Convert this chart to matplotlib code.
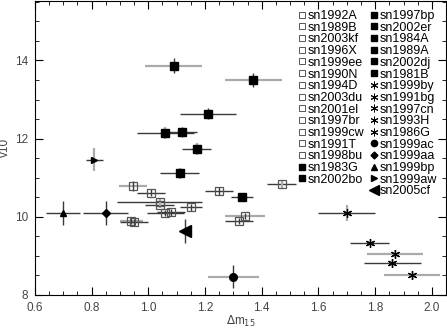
import matplotlib
matplotlib.use("Agg")
import matplotlib.pyplot as plt
from matplotlib.lines import Line2D
from matplotlib.ticker import MultipleLocator

plt.rcParams['font.family'] = ['Liberation Sans', 'DejaVu Sans']

# open squares (normal)
open_names = ["sn1992A", "sn1989B", "sn2003kf", "sn1996X", "sn1999ee", "sn1990N", "sn1994D",
              "sn2003du", "sn2001el", "sn1997br", "sn1999cw", "sn1991T", "sn1998bu"]
open_x = [0.945, 1.01, 1.04, 1.04, 1.06, 1.08, 1.15, 0.94, 0.95, 1.25, 1.47, 1.32, 1.34]
open_y = [10.78, 10.62, 10.38, 10.30, 10.09, 10.11, 10.24, 9.90, 9.87, 10.66, 10.83, 9.89, 10.02]
open_xerr = [0.05, 0.05, 0.15, 0.05, 0.065, 0.05, 0.04, 0.04, 0.05, 0.05, 0.05, 0.05, 0.07]
open_yerr = [0.13, 0.08, 0.10, 0.08, 0.08, 0.08, 0.08, 0.08, 0.08, 0.10, 0.12, 0.08, 0.08]
open_xgray = [1, 0, 0, 0, 0, 0, 0, 1, 0, 0, 0, 0, 1]
open_ygray = [0, 0, 1, 1, 0, 0, 0, 0, 0, 0, 1, 0, 0]

# filled squares
fill_names = ["sn1983G", "sn2002bo", "sn1997bp", "sn2002er", "sn1984A", "sn1989A", "sn2002dj", "sn1981B"]
fill_x = [1.09, 1.37, 1.21, 1.06, 1.12, 1.17, 1.11, 1.33]
fill_y = [13.87, 13.49, 12.64, 12.14, 12.17, 11.73, 11.11, 10.51]
fill_xerr = [0.10, 0.10, 0.10, 0.10, 0.05, 0.05, 0.07, 0.04]
fill_yerr = [0.2, 0.18, 0.15, 0.15, 0.12, 0.15, 0.15, 0.1]
fill_xgray = [1, 1, 0, 0, 0, 0, 0, 0]
fill_ygray = [0, 0, 0, 1, 0, 1, 1, 0]

# asterisks (1991bg-like)
ast_names = ["sn1999by", "sn1991bg", "sn1997cn", "sn1993H", "sn1986G"]
ast_x = [1.70, 1.78, 1.87, 1.86, 1.93]
ast_y = [10.09, 9.34, 9.05, 8.81, 8.50]
ast_xerr = [0.10, 0.07, 0.10, 0.10, 0.10]
ast_yerr = [0.2, 0.1, 0.1, 0.1, 0.1]
ast_xgray = [0, 0, 1, 0, 1]
ast_ygray = [1, 0, 1, 0, 0]

# single peculiar objects
sp_names = ["sn1999ac", "sn1999aa", "sn1999bp", "sn1999aw", "sn2005cf"]
sp_x = [1.30, 0.85, 0.70, 0.81, 1.13]
sp_y = [8.47, 10.10, 10.10, 11.46, 9.64]
sp_xerr = [0.09, 0.08, 0.06, 0.03, 0.02]
sp_yerr = [0.3, 0.3, 0.3, 0.3, 0.3]
sp_xgray = [1, 0, 0, 0, 0]
sp_ygray = [0, 0, 0, 1, 0]
sp_markers = ["o", "D", "^", ">", "<"]
sp_sizes = [5.5, 4, 5, 5, 8]

GRAY = "#aaaaaa"
DARK = "#3a3a3a"
AST = (6, 2, 0)

fig = plt.figure(figsize=(4.47, 3.31), dpi=100)
ax = fig.add_axes([0.078, 0.109, 0.92, 0.889])


def errs(xs, ys, xe, ye, xg, yg):
    for i in range(len(xs)):
        ax.errorbar(xs[i], ys[i], xerr=xe[i], fmt="none", capsize=0,
                    ecolor=GRAY if xg[i] else DARK, elinewidth=1.6 if xg[i] else 1.0, zorder=1)
        ax.errorbar(xs[i], ys[i], yerr=ye[i], fmt="none", capsize=0,
                    ecolor=GRAY if yg[i] else DARK, elinewidth=1.6 if yg[i] else 1.0, zorder=1)


errs(open_x, open_y, open_xerr, open_yerr, open_xgray, open_ygray)
errs(fill_x, fill_y, fill_xerr, fill_yerr, fill_xgray, fill_ygray)
errs(ast_x, ast_y, ast_xerr, ast_yerr, ast_xgray, ast_ygray)
errs(sp_x, sp_y, sp_xerr, sp_yerr, sp_xgray, sp_ygray)

ax.plot(open_x, open_y, ls="none", marker="s", ms=5.2, mfc="none", mec="#555555", mew=0.9, zorder=3)
ax.plot(fill_x, fill_y, ls="none", marker="s", ms=5.6, mfc="black", mec="black", zorder=3)
ax.plot(ast_x, ast_y, ls="none", marker=AST, ms=6.5, mec="black", mew=0.9, zorder=3)
for i in range(len(sp_x)):
    ax.plot(sp_x[i], sp_y[i], ls="none", marker=sp_markers[i], ms=sp_sizes[i],
            color="black", zorder=3)

ax.set_xlim(0.6, 2.05)
ax.set_ylim(8, 15.53)
ax.xaxis.set_major_locator(MultipleLocator(0.2))
ax.xaxis.set_minor_locator(MultipleLocator(0.05))
ax.yaxis.set_major_locator(MultipleLocator(2))
ax.yaxis.set_minor_locator(MultipleLocator(0.5))
ax.tick_params(which="both", direction="in", top=True, right=True, labelsize=8.5,
               labelcolor="#444444")
ax.tick_params(which="major", length=6, pad=5)
ax.tick_params(which="minor", length=3)
ax.set_xlabel(r"$\Delta$m$_{15}$", fontsize=8.5, color="#444444", labelpad=0)
ax.set_ylabel("v10", fontsize=8.5, color="#444444", labelpad=3)

# legend: left column = open squares + 2 filled, right column = rest
handles = []
labels = []
for n in open_names:
    handles.append(Line2D([], [], ls="none", marker="s", ms=4.5, mfc="none", mec="#555555", mew=0.7))
    labels.append(n)
for j, n in enumerate(fill_names):
    if j == 2:
        handles.append(Line2D([], [], ls="none", marker=None))
        labels.append("")
    handles.append(Line2D([], [], ls="none", marker="s", ms=4.5, color="black"))
    labels.append(n)
for n in ast_names:
    handles.append(Line2D([], [], ls="none", marker=AST, ms=5.5, mec="black", mew=0.7))
    labels.append(n)
for i, n in enumerate(sp_names):
    handles.append(Line2D([], [], ls="none", marker=sp_markers[i],
                          ms=[4.5, 3.5, 4.5, 4.5, 7][i], color="black"))
    labels.append(n)

ax.legend(handles, labels, ncol=2, loc="upper right", bbox_to_anchor=(0.99, 0.985),
          frameon=False, fontsize=9, handlelength=0.6, handletextpad=0.15,
          columnspacing=0.45, labelspacing=-0.025, borderpad=0.2, borderaxespad=0.2)

fig.savefig("out.png", dpi=100)
